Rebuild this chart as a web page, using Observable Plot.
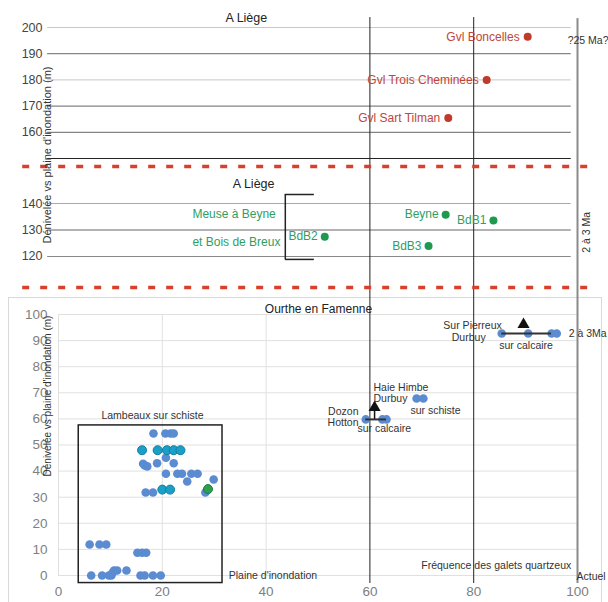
<!DOCTYPE html>
<html><head><meta charset="utf-8">
<script src="https://cdn.jsdelivr.net/npm/d3@7"></script>
<script src="https://cdn.jsdelivr.net/npm/@observablehq/plot@0.6"></script>
<style>
body{margin:0;background:#fff;font-family:"Liberation Sans",Arial,Helvetica,sans-serif;}
#wrap{position:relative;width:608px;height:602px;overflow:hidden;background:#fff;}
.panel{position:absolute;left:0;}
.vlab{position:absolute;white-space:nowrap;color:#333;transform:translate(-50%,-50%) rotate(-90deg);}
#box{position:absolute;left:8px;top:297px;width:592px;height:320px;border:1px solid #d9d9d9;}
</style></head><body>
<div id="wrap">
  <div id="box"></div>
  <div class="panel" id="pA" style="top:0px"></div>
  <div class="panel" id="pB" style="top:175px"></div>
  <div class="panel" id="pC" style="top:295px"></div>
  <div class="vlab" style="left:47px;top:155px;font-size:11px">Dénivelée vs plaine d'inondation (m)</div>
  <div class="vlab" style="left:47px;top:396px;font-size:10px">Dénivelée vs plaine d'inondation (m)</div>
</div>
<script>
// ---------- data ----------
const xTicks = [0, 20, 40, 60, 80, 100];
const yTicksA = [160, 170, 180, 190, 200];
const yTicksB = [120, 130, 140];
const yTicksC = [0, 10, 20, 30, 40, 50, 60, 70, 80, 90, 100];

// Liège, upper gravels (red)
const redNames = ["Gvl Boncelles", "Gvl Trois Cheminées", "Gvl Sart Tilman"];
const redX = [90.4, 82.5, 75.1];
const redY = [196.5, 180.0, 165.5];

// Liège, Meuse à Beyne et Bois de Breux (green)
const greenNames = ["Beyne", "BdB1", "BdB2", "BdB3"];
const greenX = [74.6, 83.8, 51.3, 71.3];
const greenY = [135.8, 133.6, 127.5, 124.0];

// Ourthe en Famenne – lambeaux sur schiste (blue)
const blueX = [18.3, 20.6, 21.6, 22.2,
  16.3, 16.6, 17.1, 19.0, 20.7, 22.2,
  20.7, 22.9, 23.8, 25.6, 26.8,
  24.8, 29.9,
  16.8, 18.2, 28.3,
  6.0, 7.9, 9.2,
  15.2, 16.1, 16.9,
  6.3, 8.4, 9.7, 10.2, 15.8, 16.6, 18.2, 19.7,
  10.7, 11.3, 13.1, 10.4];
const blueY = [54.4, 54.4, 54.4, 54.4,
  42.8, 42.2, 41.8, 43.0, 45.1, 43.0,
  39.0, 39.0, 39.0, 39.0, 39.0,
  36.0, 36.8,
  31.8, 31.8, 31.8,
  11.9, 11.9, 11.9,
  8.7, 8.7, 8.7,
  0, 0, 0, 0, 0, 0, 0, 0,
  1.9, 1.9, 1.9, 1.0];
// teal
const tealX = [16.1, 19.1, 20.9, 22.2, 23.5, 20.0, 21.5];
const tealY = [48.0, 48.0, 48.0, 48.0, 48.0, 32.9, 32.9];
// green
const greenBX = [28.8];
const greenBY = [33.1];

// Sites
const pierreuxX = [85.4, 90.5, 95.0, 96.0];
const pierreuxY = [92.7, 92.7, 92.7, 92.7];
const haieX = [69.0, 70.3];
const haieY = [67.8, 67.8];
const dozonX = [59.2, 62.4, 63.2];
const dozonY = [59.8, 59.8, 59.8];

// ---------- layout helpers ----------
const W = 608, ML = 58, MR = 31;
const FONT = '"Liberation Sans", Arial, Helvetica, sans-serif';
const idx = a => a.map((_, i) => i);
function opts(height, ydomain, marginBottom, marks) {
  return {
    width: W, height, marginLeft: ML, marginRight: MR, marginTop: 0, marginBottom,
    x: {domain: [0, 100], axis: null},
    y: {domain: ydomain},
    style: {background: "transparent", overflow: "visible", fontFamily: FONT, fontSize: "11px"},
    marks
  };
}
const T = (s, x, y, o = {}) => Plot.text([s], {x, y, text: d => d, fontSize: 11, fill: "#333", ...o});
const RED_DASH = {stroke: "#d9402b", strokeWidth: 3.5, strokeDasharray: "7,11", x1: -6.9, x2: 103.9};

// ---------- Panel A : Liège upper ----------
const domA = [143.51, 210.31];
const plotA = Plot.plot(opts(175, domA, 0, [
  Plot.ruleY([200, 180], {x1: -2.1, x2: 98.8, stroke: "#c8c8c8"}),
  Plot.ruleY([190, 170, 160], {x1: -2.1, x2: 98.8, stroke: "#666"}),
  Plot.ruleY([150], {x1: -2.1, x2: 98.8, stroke: "#222"}),
  Plot.ruleX([60, 80], {y1: 203.8, y2: domA[0], stroke: "#222", strokeWidth: 1}),
  Plot.ruleX([100], {y1: 203.4, y2: domA[0], stroke: "#8a8a8a", strokeWidth: 2}),
  Plot.ruleY([146.95], RED_DASH),
  Plot.axisY({ticks: yTicksA, tickSize: 0, tickPadding: 16, fontSize: 12.5, fill: "#444", label: null}),
  Plot.dot(idx(redX), {x: i => redX[i], y: i => redY[i], r: 4, fill: "#c0392b"}),
  Plot.text(idx(redX), {x: i => redX[i], y: i => redY[i], text: i => redNames[i], textAnchor: "end", dx: -8, fontSize: 12, fill: "#c0453a"}),
  T("A Liège", 36.2, 203.8, {fontSize: 12.5, fill: "#222"}),
  T("?25 Ma?", 98.1, 195.0, {textAnchor: "start", fontSize: 10.5})
]));
document.getElementById("pA").append(plotA);

// ---------- Panel B : Liège lower ----------
const domB = [105.28, 150.57];
const plotB = Plot.plot(opts(120, domB, 0, [
  Plot.ruleY([140], {x1: -2.1, x2: 98.8, stroke: "#aaa"}),
  Plot.ruleY([130], {x1: -2.1, x2: 98.8, stroke: "#666"}),
  Plot.ruleY([120], {x1: -2.1, x2: 98.8, stroke: "#888"}),
  Plot.ruleX([60, 80], {stroke: "#222", strokeWidth: 1}),
  Plot.ruleX([100], {stroke: "#8a8a8a", strokeWidth: 2}),
  Plot.ruleY([108.3], RED_DASH),
  Plot.axisY({ticks: yTicksB, tickSize: 0, tickPadding: 16, fontSize: 12.5, fill: "#444", label: null}),
  // bracket
  Plot.ruleX([43.7], {y1: 118.9, y2: 143.4, stroke: "#222", strokeWidth: 1.5}),
  Plot.ruleY([143.4, 118.9], {x1: 43.7, x2: 49.3, stroke: "#222", strokeWidth: 1.5}),
  Plot.dot(idx(greenX), {x: i => greenX[i], y: i => greenY[i], r: 4, fill: "#1e9a50"}),
  Plot.text(idx(greenX), {x: i => greenX[i], y: i => greenY[i], text: i => greenNames[i], textAnchor: "end", dx: -7, fontSize: 12, fill: "#2f9e5f"}),
  T("A Liège", 37.6, 147.5, {fontSize: 12.5, fill: "#222"}),
  T("Meuse à Beyne", 25.8, 135.8, {textAnchor: "start", fontSize: 12, fill: "#2f9e5f"}),
  T("et Bois de Breux", 25.8, 125.3, {textAnchor: "start", fontSize: 12, fill: "#2f9e5f"}),
  T("2 à 3 Ma", 101.7, 129.1, {rotate: -90, fontSize: 10.5})
]));
document.getElementById("pB").append(plotB);

// ---------- Panel C : Ourthe en Famenne ----------
const domC = [-3.07, 107.28];
const plotC = Plot.plot(opts(307, domC, 19, [
  Plot.ruleY(yTicksC, {x1: 0, x2: 100, stroke: "#e0e0e0"}),
  Plot.ruleX([0, 20, 40], {y1: 0, y2: 100, stroke: "#e0e0e0"}),
  Plot.ruleX([60, 80], {stroke: "#222", strokeWidth: 1}),
  Plot.ruleX([100], {stroke: "#8a8a8a", strokeWidth: 2}),
  Plot.axisY({ticks: yTicksC, tickSize: 0, tickPadding: 11, fontSize: 13.5, fill: "#808080", label: null}),
  Plot.axisX({ticks: xTicks, tickSize: 0, tickPadding: 3, fontSize: 13.5, fill: "#808080", label: null}),
  Plot.rect([0], {x1: 3.9, x2: 31.6, y1: -2.9, y2: 57.5, fill: "none", stroke: "#222", strokeWidth: 1.5}),
  Plot.dot(idx(blueX), {x: i => blueX[i], y: i => blueY[i], r: 4.3, fill: "#5b8bd0"}),
  Plot.dot(idx(tealX), {x: i => tealX[i], y: i => tealY[i], r: 4.5, fill: "#1aa0c8", stroke: "#137ea0", strokeWidth: 1}),
  Plot.dot(idx(greenBX), {x: i => greenBX[i], y: i => greenBY[i], r: 4.5, fill: "#2e9e4f", stroke: "#1d7a3a", strokeWidth: 1}),
  Plot.dot(idx(pierreuxX), {x: i => pierreuxX[i], y: i => pierreuxY[i], r: 4.3, fill: "#5b8bd0"}),
  Plot.dot(idx(haieX), {x: i => haieX[i], y: i => haieY[i], r: 4.3, fill: "#5b8bd0"}),
  Plot.dot(idx(dozonX), {x: i => dozonX[i], y: i => dozonY[i], r: 4.3, fill: "#5b8bd0"}),
  Plot.ruleY([pierreuxY[0]], {x1: pierreuxX[0], x2: pierreuxX[2], stroke: "#333", strokeWidth: 2}),
  Plot.ruleY([dozonY[0]], {x1: dozonX[0], x2: dozonX[2], stroke: "#333", strokeWidth: 2}),
  Plot.ruleX([60.9], {y1: 59.8, y2: 64.0, stroke: "#111", strokeWidth: 1.5}),
  Plot.dot([0], {x: 89.6, y: 96.2, symbol: "triangle", r: 4.5, fill: "#111"}),
  Plot.dot([0], {x: 60.9, y: 64.4, symbol: "triangle", r: 4.5, fill: "#111"}),
  T("Ourthe en Famenne", 50.1, 101.9, {fontSize: 12, fill: "#222"}),
  T("Lambeaux sur schiste", 18.1, 61.3, {fontSize: 10.5}),
  T("Plaine d'inondation", 32.8, 0, {textAnchor: "start", fontSize: 10.5}),
  T("Fréquence des galets quartzeux", 98.8, 3.8, {textAnchor: "end", fontSize: 10.5}),
  T("Actuel", 99.8, -0.4, {textAnchor: "start", fontSize: 10.5}),
  T("Sur Pierreux", 85.4, 95.8, {textAnchor: "end", fontSize: 10.5}),
  T("Durbuy", 82.3, 91.2, {textAnchor: "end", fontSize: 10.5}),
  T("sur calcaire", 90.1, 88.1, {fontSize: 10.5}),
  T("2 à 3Ma", 98.3, 92.7, {textAnchor: "start", fontSize: 10.5}),
  T("Haie Himbe", 60.7, 72.0, {textAnchor: "start", fontSize: 10.5}),
  T("Durbuy", 60.7, 67.8, {textAnchor: "start", fontSize: 10.5}),
  T("sur schiste", 67.8, 63.2, {textAnchor: "start", fontSize: 10.5}),
  T("Dozon", 57.8, 62.8, {textAnchor: "end", fontSize: 10.5}),
  T("Hotton", 57.8, 58.6, {textAnchor: "end", fontSize: 10.5}),
  T("sur calcaire", 57.6, 56.3, {textAnchor: "start", fontSize: 10.5})
]));
document.getElementById("pC").append(plotC);
</script>
</body></html>
